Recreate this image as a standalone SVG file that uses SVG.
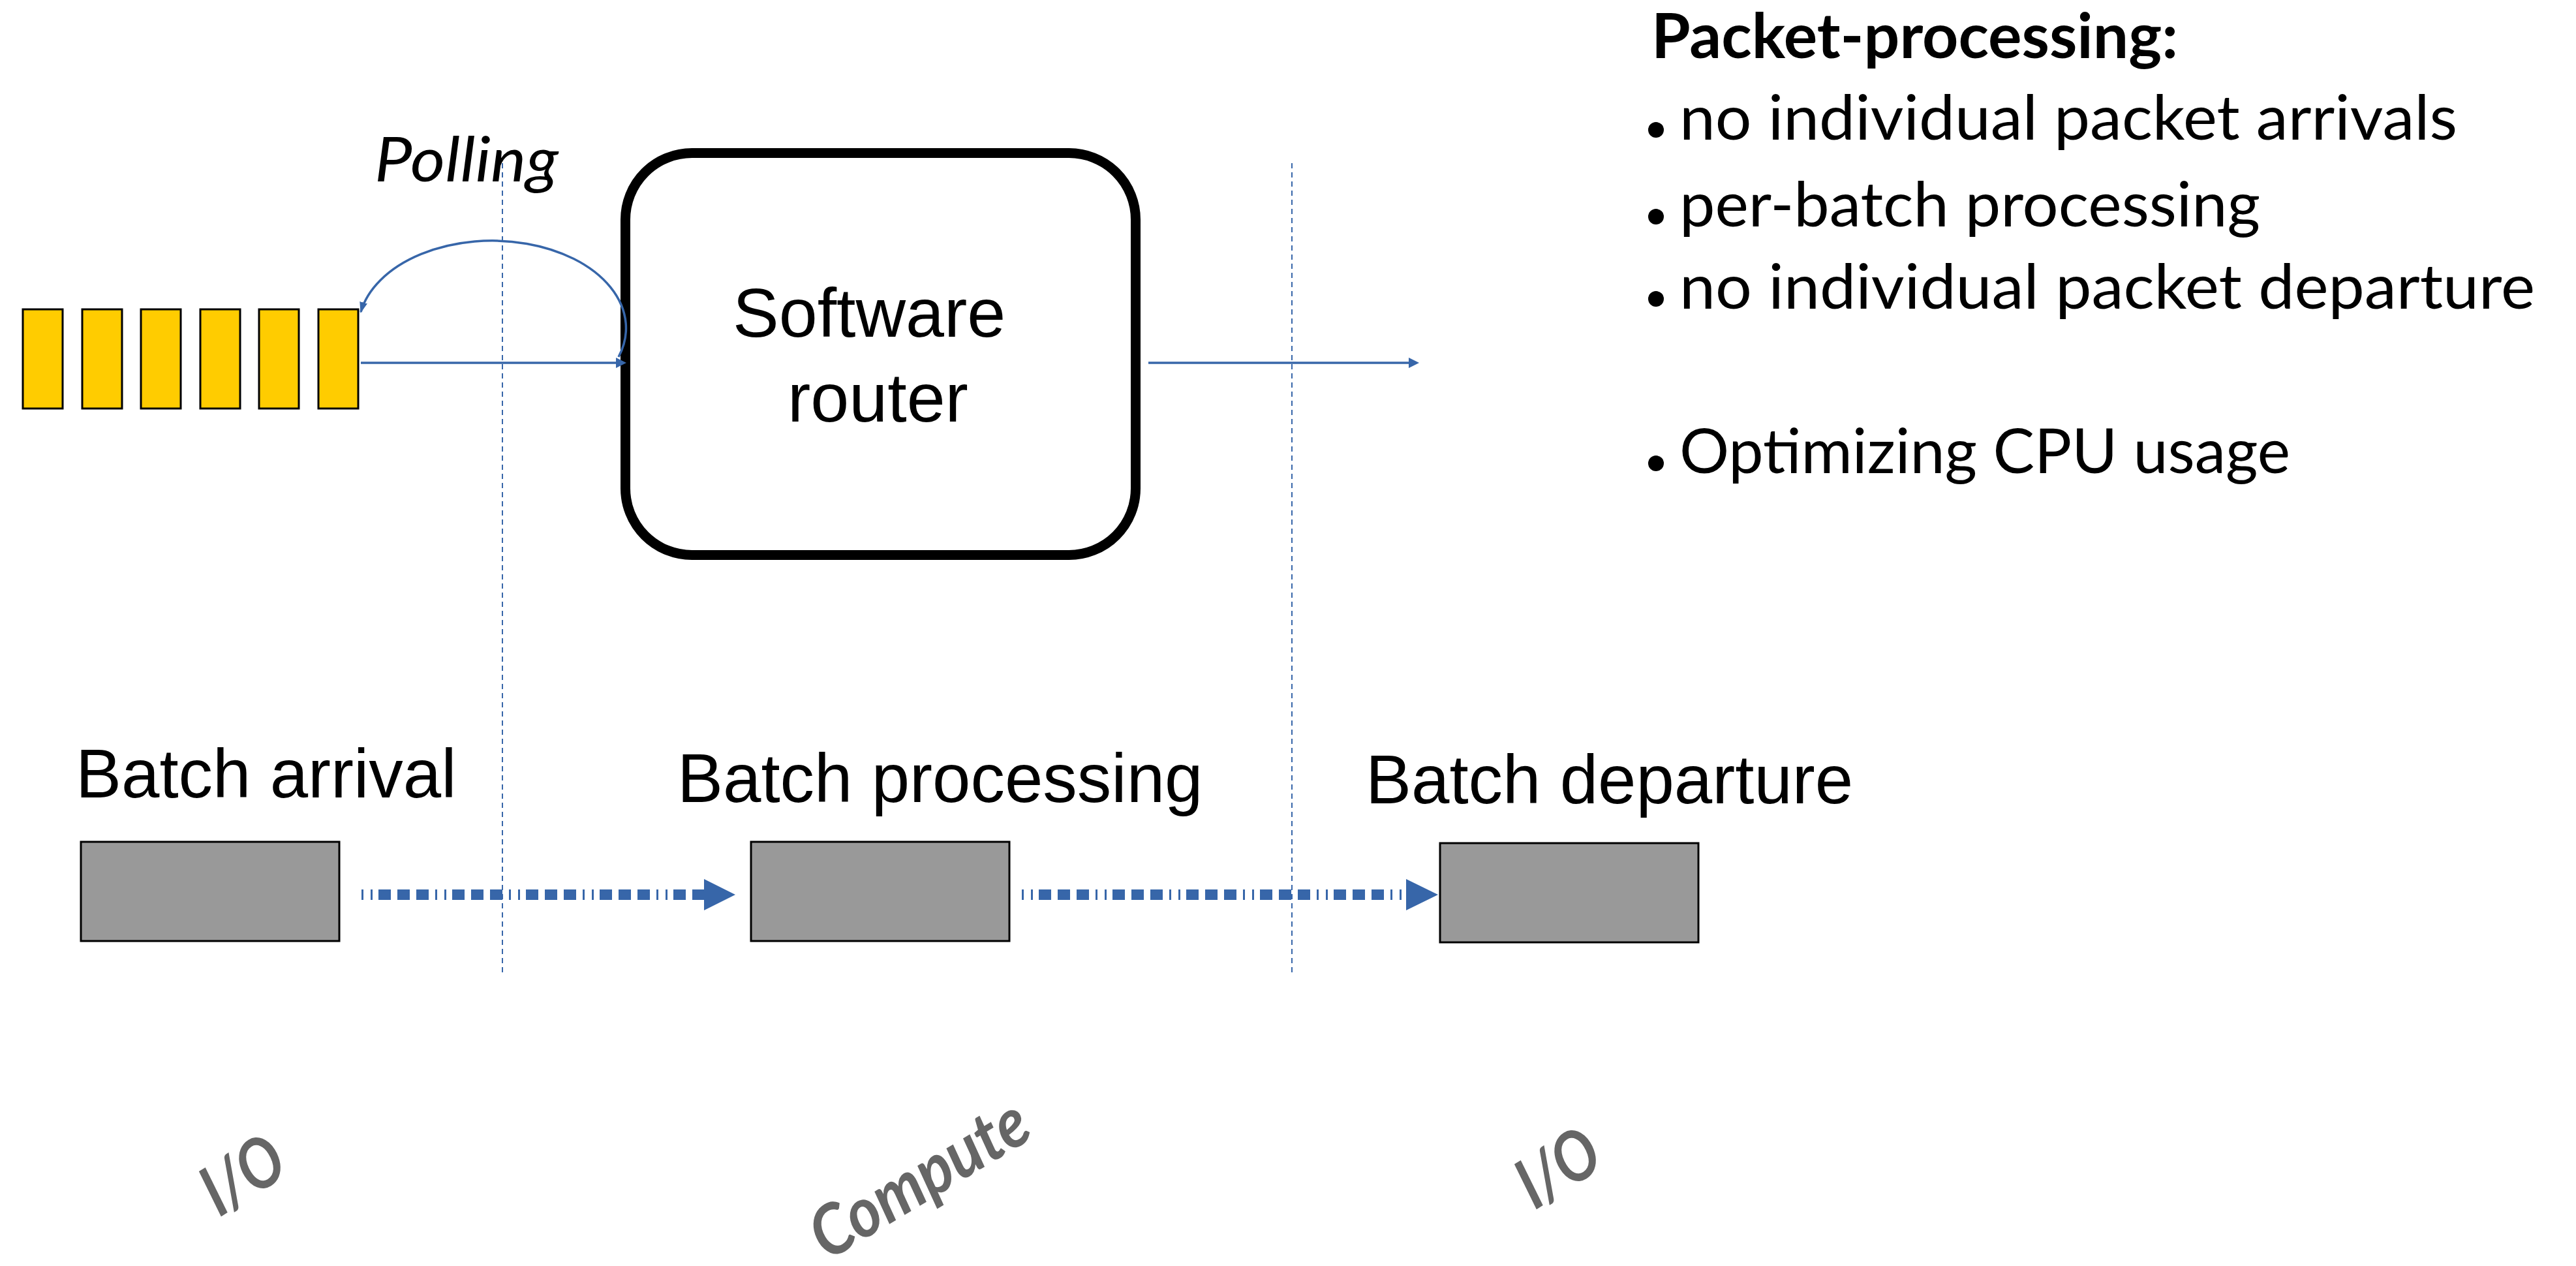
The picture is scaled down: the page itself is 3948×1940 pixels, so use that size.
<svg xmlns="http://www.w3.org/2000/svg" width="3948" height="1940" viewBox="0 0 3948 1940">
  <style>
    .cal { font-family: Lato, "Open Sans", "Noto Sans", sans-serif; font-size: 95px; fill: #000; }
    .arial { font-family: "Liberation Sans", Arial, sans-serif; fill: #000; }
    .pkt { fill: #ffcc00; stroke: #000; stroke-width: 3; }
    .batch { fill: #999999; stroke: #000; stroke-width: 3; }
    .guide { stroke: #3766a9; stroke-width: 2; stroke-dasharray: 8 6; fill: none; }
    .flow { stroke: #3766a9; stroke-width: 3.5; fill: none; }
    .thick { stroke: #3766a9; stroke-width: 16; fill: none; stroke-dasharray: 3 11 3 9 19 10 19 10 19 10; }
    .head { fill: #3766a9; }
    .phase { font-family: Lato, "Open Sans", sans-serif; font-weight: bold; font-style: italic; font-size: 106px; fill: #666666; }
  </style>
  <defs>
    <marker id="tri" markerUnits="userSpaceOnUse" viewBox="0 0 16 16" refX="6" refY="8" markerWidth="16" markerHeight="16" orient="auto">
      <path d="M0 0 L16 8 L0 16 Z" fill="#3766a9"/>
    </marker>
    <marker id="triSmall" markerUnits="userSpaceOnUse" viewBox="0 0 17 12" refX="15" refY="6" markerWidth="17" markerHeight="12" orient="auto">
      <path d="M0 0 L17 6 L0 12 Z" fill="#3766a9"/>
    </marker>
  </defs>

  <rect width="3948" height="1940" fill="#ffffff"/>

  <!-- phase separators -->
  <g id="separators">
    <line class="guide" x1="770" y1="250" x2="770" y2="1490"/>
    <line class="guide" x1="1980" y1="250" x2="1980" y2="1490"/>
  </g>

  <!-- packet queue -->
  <g id="queue">
    <rect class="pkt" x="35" y="474" width="61" height="152"/>
    <rect class="pkt" x="126" y="474" width="61" height="152"/>
    <rect class="pkt" x="216" y="474" width="61" height="152"/>
    <rect class="pkt" x="307" y="474" width="61" height="152"/>
    <rect class="pkt" x="397" y="474" width="61" height="152"/>
    <rect class="pkt" x="488" y="474" width="61" height="152"/>
  </g>

  <g id="polling-label">
    <text class="cal" x="574" y="278" font-style="italic" textLength="282" lengthAdjust="spacingAndGlyphs">Polling</text>
  </g>

  <!-- router -->
  <g id="router">
    <rect x="958.5" y="234.5" width="782" height="616" rx="102" ry="102" fill="#ffffff" stroke="#000" stroke-width="15"/>
    <text class="arial" x="1123" y="516" font-size="106">Software</text>
    <text class="arial" x="1207" y="646" font-size="106">router</text>
  </g>

  <!-- batch stages -->
  <g id="batch-arrival">
    <text class="arial" x="116" y="1222" font-size="105">Batch arrival</text>
    <rect class="batch" x="124" y="1290" width="396" height="152"/>
  </g>
  <g id="batch-processing">
    <text class="arial" x="1038" y="1229" font-size="105">Batch processing</text>
    <rect class="batch" x="1151" y="1290" width="396" height="152"/>
  </g>
  <g id="batch-departure">
    <text class="arial" x="2093" y="1231" font-size="105">Batch departure</text>
    <rect class="batch" x="2207" y="1292" width="396" height="152"/>
  </g>

  <!-- connectors -->
  <g id="connectors">
    <path class="flow" stroke-width="2" d="M948 547 A205 134 0 1 0 553 478" marker-end="url(#triSmall)"/>
    <line class="flow" x1="553" y1="556" x2="950" y2="556" marker-end="url(#tri)"/>
    <line class="flow" x1="1760" y1="556" x2="2165" y2="556" marker-end="url(#tri)"/>

    <line class="thick" x1="554" y1="1371" x2="1080" y2="1371"/>
    <polygon class="head" points="1079,1347 1127,1371 1079,1395"/>
    <line class="thick" x1="1566" y1="1371" x2="2156" y2="1371"/>
    <polygon class="head" points="2155,1347 2204,1371 2155,1395"/>
  </g>

  <!-- phase labels -->
  <g id="phase-io-in" transform="translate(372 1801) rotate(-32)">
    <text class="phase" x="0" y="36" text-anchor="middle" textLength="130" lengthAdjust="spacingAndGlyphs">I/O</text>
  </g>
  <g id="phase-compute" transform="translate(1410 1808) rotate(-31)">
    <text class="phase" x="0" y="34" text-anchor="middle" textLength="372" lengthAdjust="spacingAndGlyphs">Compute</text>
  </g>
  <g id="phase-io-out" transform="translate(2388 1790) rotate(-32)">
    <text class="phase" x="0" y="36" text-anchor="middle" textLength="130" lengthAdjust="spacingAndGlyphs">I/O</text>
  </g>

  <!-- notes -->
  <g id="notes">
    <text class="cal" x="2531" y="89" font-weight="bold" textLength="807" lengthAdjust="spacingAndGlyphs">Packet-processing:</text>
    <circle cx="2538" cy="199" r="12"/>
    <text class="cal" x="2574" y="214" textLength="1192" lengthAdjust="spacingAndGlyphs">no individual packet arrivals</text>
    <circle cx="2538" cy="332" r="12"/>
    <text class="cal" x="2574" y="347" textLength="890" lengthAdjust="spacingAndGlyphs">per-batch processing</text>
    <circle cx="2538" cy="458" r="12"/>
    <text class="cal" x="2574" y="473" textLength="1311" lengthAdjust="spacingAndGlyphs">no individual packet departure</text>
    <circle cx="2538" cy="710" r="12"/>
    <text class="cal" x="2574" y="725" textLength="936" lengthAdjust="spacingAndGlyphs">Optimizing CPU usage</text>
  </g>
</svg>
